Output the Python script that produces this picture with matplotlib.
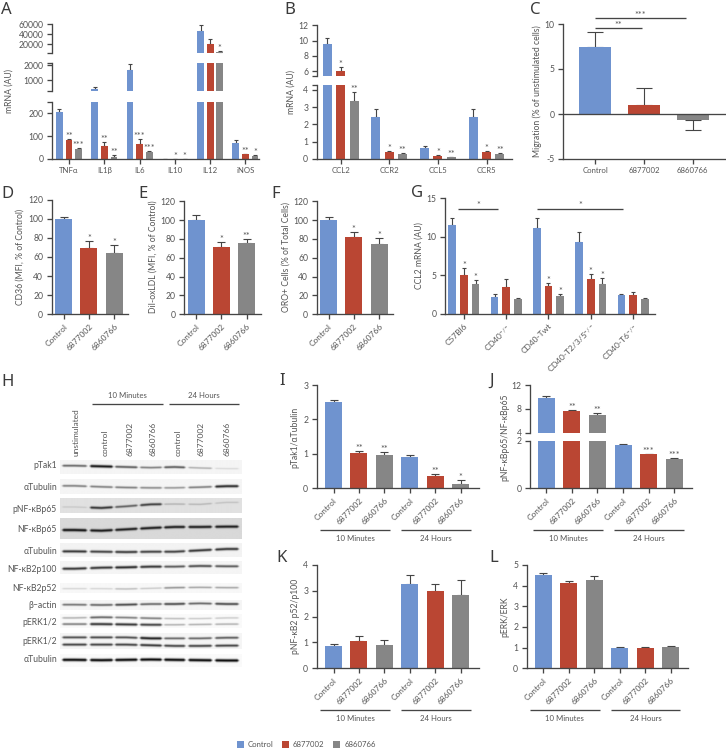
import numpy as np
import matplotlib
matplotlib.use('Agg')
import matplotlib.pyplot as plt

W, H = 726, 749
plt.rcParams['font.family'] = ['Lato', 'DejaVu Sans']
plt.rcParams['mathtext.fontset'] = 'custom'
plt.rcParams['mathtext.rm'] = 'Lato'
plt.rcParams['mathtext.default'] = 'regular'

BLUE, RED, GRAY = '#6F93CF', '#BA4633', '#868686'
INK = '#454545'
TXT = '#555555'
COLORS = [BLUE, RED, GRAY]
FS = 6.2
FS_H = 5.6
FS_ROT = 6.0
FS_STAR = 6.5
LW = 0.95

# ---------- data ----------
drugs = ['Control', '6877002', '6860766']
a_cats = ['TNFα', 'IL1β', 'IL6', 'IL10', 'IL12', 'iNOS']
a_vals = [205, 81, 43, 400, 58, 10, 1700, 67, 32, 2, 0.5, 0.5, 46600, 21300, 4000, 71, 20, 13]
a_tops = [219, 88, 50, 533, 74, 16, 2070, 88, 35, 2, 0.5, 0.5, 58000, 30000, 7000, 81, 23, 16]
a_star = ['', '**', '***', '', '**', '**', '', '***', '***', '', '*', '*', '', '', '*', '', '**', '*']
b_cats = ['CCL2', 'CCR2', 'CCL5', 'CCR5']
b_vals = [9.6, 6.0, 3.36, 2.42, 0.39, 0.27, 0.63, 0.17, 0.07, 2.42, 0.39, 0.25]
b_tops = [10.4, 6.5, 3.86, 2.91, 0.46, 0.31, 0.75, 0.21, 0.10, 2.91, 0.46, 0.31]
b_star = ['', '*', '**', '', '*', '**', '', '*', '**', '', '*', '**']
c_vals = [7.5, 1.0, -0.65]
c_tops = [9.1, 2.85, -1.8]
d_vals = [100, 69, 64]
d_tops = [102, 76.5, 73]
e_vals = [100, 72, 76]
e_tops = [105, 76.5, 79.5]
e_star = ['', '*', '**']
f_vals = [100, 82, 75]
f_tops = [103, 87, 80.7]
g_cats = ['C57Bl6', 'CD40$^{-/-}$', 'CD40-Twt', 'CD40-T2/3/5$^{-/-}$', 'CD40-T6$^{-/-}$']
g_vals = [11.5, 5.0, 3.9, 2.2, 3.5, 1.9, 11.2, 3.6, 2.3, 9.3, 4.5, 3.9, 2.4, 2.45, 1.9]
g_tops = [12.5, 6.0, 4.4, 2.5, 4.45, 2.1, 12.5, 3.95, 2.5, 10.6, 5.15, 4.6, 2.5, 2.8, 2.1]
g_star = ['', '*', '*', '', '', '', '', '*', '*', '', '*', '*', '', '', '']
i_vals = [2.52, 1.03, 0.96, 0.92, 0.36, 0.13]
i_tops = [2.56, 1.08, 1.04, 0.97, 0.41, 0.24]
i_star = ['', '**', '**', '', '**', '*']
j_vals = [9.83, 7.6, 7.0, 1.85, 1.43, 1.26]
j_tops = [10.2, 7.8, 7.3, 1.87, 1.47, 1.29]
j_star = ['', '**', '**', '', '***', '***']
k_vals = [0.85, 1.05, 0.9, 3.28, 2.98, 2.83]
k_tops = [0.95, 1.25, 1.08, 3.63, 3.25, 3.4]
l_vals = [4.5, 4.15, 4.25, 1.0, 0.98, 1.03]
l_tops = [4.62, 4.24, 4.48, 1.03, 1.03, 1.06]

blot_names = ['pTak1', 'αTubulin', 'pNF-κBp65', 'NF-κBp65', 'αTubulin', 'NF-κB2p100',
              'NF-κB2p52', 'β−actin', 'pERK1/2', 'pERK1/2', 'αTubulin']
blot_lanes = ['unstimulated', 'control', '6877002', '6860766', 'control', '6877002', '6860766']
blot_i1 = [[.60, .95, .65, .50, .65, .30, .12],
           [.50, .50, .50, .45, .40, .50, .85],
           [.12, .80, .60, .75, .22, .20, .15],
           [.95, .92, .90, .90, .90, .90, .90],
           [.80, .75, .78, .75, .75, .80, .80],
           [.80, .80, .85, .80, .65, .70, .65],
           [.15, .15, .25, .20, .42, .35, .35],
           [.55, .60, .72, .60, .72, .60, .72],
           [.30, .60, .50, .50, .25, .20, .20],
           [.70, .72, .70, .90, .60, .60, .65],
           [1.0, 1.0, 1.0, 1.0, 1.0, 1.0, 1.0]]
blot_i2 = {8: [.50, .80, .80, .75, .30, .30, .30],
           9: [.75, .75, .75, .80, .75, .75, .75]}

# ---------- layout (pixels) ----------
fig = plt.figure(figsize=(W / 100, H / 100), dpi=100, facecolor='white')
ov = fig.add_axes([0, 0, 1, 1], zorder=5)
ov.set_xlim(0, W)
ov.set_ylim(H, 0)
ov.axis('off')


def new_axes(left, right, ybot, ytop, ylim, bottom=True):
    ax = fig.add_axes([left / W, 1 - ybot / H, (right - left) / W, (ybot - ytop) / H])
    ax.set_xlim(left, right)
    ax.set_ylim(*ylim)
    ax.patch.set_alpha(0)
    for s in ['top', 'right']:
        ax.spines[s].set_visible(False)
    ax.spines['bottom'].set_visible(bottom)
    for s in ['left', 'bottom']:
        ax.spines[s].set_linewidth(LW)
        ax.spines[s].set_color(INK)
    ax.tick_params(length=3.6, width=LW, color=INK, labelcolor=TXT, labelsize=FS, pad=2.5)
    ax.set_xticks([])
    return ax


def centers(start, bstep, gstep, groups, per=3):
    return [start + g * gstep + b * bstep for g in range(groups) for b in range(per)]


def bars(ax, xs, vals, tops, width, stars=None, cap=0.26, up=1.8):
    lo = ax.get_ylim()[0]
    for i, (x, v, t) in enumerate(zip(xs, vals, tops)):
        c = COLORS[i % 3]
        ax.bar(x, v, width, color=c, linewidth=0, zorder=2)
        low, high = max(v - t, 0), max(t - v, 0)
        if max(v, t) >= lo:
            ax.errorbar(x, v, yerr=[[low], [high]], ecolor=INK, elinewidth=0.8, capthick=0.8,
                        capsize=width * cap * 0.72, fmt='none', zorder=1)
        if stars and stars[i]:
            ax.annotate(stars[i], (x, t), xytext=(0, up), textcoords='offset points',
                        ha='center', va='center', fontsize=FS_STAR, color=TXT)


def yticks(ax, ticks, labels=None):
    ax.set_yticks(ticks)
    ax.set_yticklabels([str(t) for t in ticks] if labels is None else labels)


def xrot(ax, ticks, labels):
    ax.set_xticks(ticks)
    ax.set_xticklabels(labels, rotation=45, ha='right', va='top', rotation_mode='anchor', fontsize=FS_ROT)


def label(x, y, s):
    ov.text(x, y, s, rotation=90, ha='center', va='center', fontsize=FS, color=TXT)


def letter(x, y, s):
    ov.text(x, y, s, ha='left', va='center', fontsize=12, color='#3A3A3A', family='Noto Sans')


def hline(x0, x1, y, lw=LW):
    ov.plot([x0, x1], [y, y], color=INK, lw=lw, solid_capstyle='butt')


def groups(x1a, x1b, x2a, x2b, y):
    hline(x1a, x1b, y)
    hline(x2a, x2b, y)
    ov.text((x1a + x1b) / 2, y + 8.7, '10 Minutes', ha='center', va='center', fontsize=FS_H, color=TXT)
    ov.text((x2a + x2b) / 2, y + 8.7, '24 Hours', ha='center', va='center', fontsize=FS_H, color=TXT)


# Panel A
xa = centers(59.3, 9.67, 35.3, 6)
a_segs = [(159, 101.7, (0, 250), [0, 100, 200, 250], ['0', '100', '200', ''], True),
          (91.3, 62.7, (267, 2173), [267, 1000, 2000, 2173], ['', '1000', '2000', ''], False),
          (52.7, 24, (3450, 60000), [3450, 20000, 40000, 60000], ['', '20000', '40000', '60000'], False)]
for yb, yt, lim, tk, lb, bt in a_segs:
    ax = new_axes(52, 259, yb, yt, lim, bt)
    bars(ax, xa, a_vals, a_tops, 6.7, a_star)
    yticks(ax, tk, lb)
    if bt:
        ax.set_xticks(xa[1::3])
        ax.set_xticklabels(a_cats, fontsize=FS_H)
label(8.7, 91, 'mRNA (AU)')

# Panel B
xb = centers(327.3, 13.4, 48.6, 4)
for yb, yt, lim, tk, lb, bt in [(158.7, 85, (0, 4.29), [0, 1, 2, 3, 4, 4.29], ['0', '1', '2', '3', '4', ''], True),
                                (75.7, 25.3, (5.43, 12), [5.43, 6, 8, 10, 12], ['', '6', '8', '10', '12'], False)]:
    ax = new_axes(316.7, 511.7, yb, yt, lim, bt)
    bars(ax, xb, b_vals, b_tops, 9, b_star)
    yticks(ax, tk, lb)
    if bt:
        ax.set_xticks(xb[1::3])
        ax.set_xticklabels(b_cats, fontsize=FS_H)
label(290.7, 92, 'mRNA (AU)')

# Panel C
ax = new_axes(563.3, 726, 159, 24, (-5, 10))
xc = centers(595.2, 48.7, 0, 1)
bars(ax, xc, c_vals, c_tops, 32)
ax.axhline(0, color=INK, lw=LW, zorder=3)
yticks(ax, [-5, 0, 5, 10])
ax.set_xticks(xc)
ax.set_xticklabels(drugs, fontsize=FS_H)
label(537.3, 91.3, 'Migration (% of unstimulated cells)')
for x0, x1, y, s in [(595.3, 685.7, 17.7, '***'), (595.3, 642, 28, '**')]:
    hline(x0, x1, y)
    ov.text((x0 + x1) / 2, y - 2.5, s, ha='center', va='center', fontsize=FS_STAR, color=TXT)

# Panels D, E, F
for left, right, ytop, start, v, t, st, lx, txt in [
        (51.7, 127.7, 199.7, 63.7, d_vals, d_tops, ['', '*', '*'], 20, 'CD36 (MFI, % of Control)'),
        (184.3, 260.7, 201.3, 196.2, e_vals, e_tops, e_star, 153, 'DiI-oxLDL (MFI, % of Control)'),
        (316.7, 392.7, 201.3, 328.5, f_vals, f_tops, ['', '*', '*'], 286, 'ORO+ Cells (% of Total Cells)')]:
    ax = new_axes(left, right, 314.3, ytop, (0, 120))
    xs = centers(start, 25.25, 0, 1)
    bars(ax, xs, v, t, 17, st)
    yticks(ax, [0, 20, 40, 60, 80, 100, 120])
    xrot(ax, xs, drugs)
    label(lx, 257, txt)

# Panel G
ax = new_axes(445, 654.7, 313.7, 198.3, (0, 15))
xg = centers(452.2, 11.67, 42.3, 5)
bars(ax, xg, g_vals, g_tops, 7.7, g_star)
yticks(ax, [0, 5, 10, 15])
xrot(ax, xg[1::3], g_cats)
label(418.7, 256, 'CCL2 mRNA (AU)')
for x0, x1 in [(458.3, 497.7), (537, 622.7)]:
    hline(x0, x1, 209)
    ov.text((x0 + x1) / 2, 206, '*', ha='center', va='center', fontsize=FS_STAR, color=TXT)

# Panel H: blot strips
lane_spans = [(187, 260), (270, 338), (345, 412), (420, 485), (492, 555), (565, 635), (645, 715)]
strip_y = [(270, 312), (328, 372), (385, 430), (447, 508), (520, 560), (575, 612),
           (638, 668), (690, 720), (735, 775), (790, 838), (852, 890)]
strip_bg = [.96, .96, .88, .85, .95, .96, .97, .96, .98, .96, .98]
band_y = [[287, 289, 291, 293, 291, 294, 296],
          [348, 351, 353, 354, 354, 352, 349],
          [412, 415, 410, 404, 403, 404, 398],
          [482, 484, 480, 476, 473, 473, 472],
          [544, 545, 546, 545, 545, 541, 537],
          [597, 594, 593, 591, 591, 589, 590],
          [655, 655, 656, 654, 652, 651, 652],
          [704, 705, 704, 702, 702, 700, 702],
          [746, 744, 745, 747, 748, 748, 746],
          [803, 803, 803, 806, 806, 806, 804]]
band_y.append([869, 870, 869, 868, 869, 870, 871])
band2_y = {8: [764, 764, 765, 766, 766, 765, 764], 9: [825, 825, 825, 827, 829, 829, 828]}
label_y = [288, 352, 417, 477, 545, 598, 656, 707, 758, 816, 870]
lane_cx = np.array([(a + b) / 2 for a, b in lane_spans])
SCALE = 4
for r, (z0, z1) in enumerate(strip_y):
    ny = (z1 - z0) * SCALE // 3
    nx = int((725 - 180) * SCALE / 3)
    yy = np.linspace(z0, z1, ny)[:, None]
    xx = np.linspace(180, 725, nx)
    img = np.full((ny, nx), strip_bg[r])
    ybands = [(band_y[r], blot_i1[r])]
    if r in blot_i2:
        ybands.append((band2_y[r], blot_i2[r]))
    for ys, ints in ybands:
        yc = np.interp(xx, lane_cx, ys)
        amp = np.zeros_like(xx)
        for (a, b), v in zip(lane_spans, ints):
            amp = np.maximum(amp, v * np.clip((xx - a + 4) / 8, 0, 1) * np.clip((b - xx + 4) / 8, 0, 1))
        sig = 2.0 + 2.2 * amp
        img = img - (amp * np.exp(-((yy - yc[None, :]) / sig[None, :]) ** 2)) * strip_bg[r]
    ov.imshow(np.clip(img, 0, 1), extent=(60, 241.7, 370 + z1 / 3, 370 + z0 / 3), aspect='auto',
              cmap='gray', vmin=0, vmax=1, interpolation='bilinear', zorder=1)
    ov.text(57, 370 + label_y[r] / 3, blot_names[r], ha='right', va='center', fontsize=FS, color=TXT)
ov.set_xlim(0, W)
ov.set_ylim(H, 0)
for name, zx in zip(blot_lanes, [228, 315, 390, 460, 535, 603, 680]):
    ov.text(zx / 3, 370 + 258 / 3, name, rotation=90, ha='center', va='bottom', fontsize=FS_ROT, color=TXT)
for x0, x1, s in [(92.3, 162.7, '10 Minutes'), (169, 239.3, '24 Hours')]:
    hline(x0, x1, 404.3)
    ov.text((x0 + x1) / 2, 395.7, s, ha='center', va='center', fontsize=FS_H, color=TXT)

# Panel I
labels6 = drugs * 2
xi = centers(333.5, 25.4, 76.2, 2)
ax = new_axes(316.7, 478.7, 488.3, 385, (0, 3))
bars(ax, xi, i_vals, i_tops, 17, i_star)
yticks(ax, [0, 1, 2, 3])
xrot(ax, xi, labels6)
label(295, 437, 'pTak1/αTubulin')
groups(320, 390, 401, 470.7, 530)

# Panel J
xj = centers(546.5, 25.5, 76.7, 2)
for yb, yt, lim, tk, bt in [(488.3, 441, (0, 2), [0, 2], True), (432.8, 385, (4, 12), [4, 8, 12], False)]:
    ax = new_axes(530, 692.3, yb, yt, lim, bt)
    bars(ax, xj, j_vals, j_tops, 17, j_star)
    yticks(ax, tk)
    if bt:
        xrot(ax, xj, labels6)
label(505.3, 437, 'pNF-κBp65/NF-κBp65')
groups(533.3, 603.3, 614, 684, 530)

# Panel K
ax = new_axes(316.7, 478.7, 668.3, 565, (0, 4))
bars(ax, xi, k_vals, k_tops, 17)
yticks(ax, [0, 1, 2, 3, 4])
xrot(ax, xi, labels6)
label(295, 616.7, 'pNF-κB2 p52/p100')
groups(320, 390, 401, 470.7, 710)

# Panel L
xl = centers(543.2, 25.5, 76.5, 2)
ax = new_axes(526.7, 688.3, 668.3, 565, (0, 5))
bars(ax, xl, l_vals, l_tops, 17)
yticks(ax, [0, 1, 2, 3, 4, 5])
xrot(ax, xl, labels6)
label(505.3, 616.7, 'pERK/ERK')
groups(530, 599.7, 610.7, 680.3, 710)

# Legend
for name, c, x0 in zip(drugs, COLORS, [236.7, 281.7, 333.3]):
    ov.add_patch(plt.Rectangle((x0, 741), 7, 7, color=c, lw=0))
    ov.text(x0 + 11.3, 744.5, name, ha='left', va='center', fontsize=FS_H, color=TXT)

for x, y, s in [(1, 10, 'A'), (284, 10, 'B'), (530, 10, 'C'), (1, 194, 'D'), (138, 194, 'E'),
                (271, 194, 'F'), (411, 193, 'G'), (1, 382, 'H'), (279, 381, 'I'), (489, 381, 'J'),
                (276, 558, 'K'), (489, 558, 'L')]:
    letter(x, y, s)

fig.savefig('out.png', dpi=100, facecolor='white')
